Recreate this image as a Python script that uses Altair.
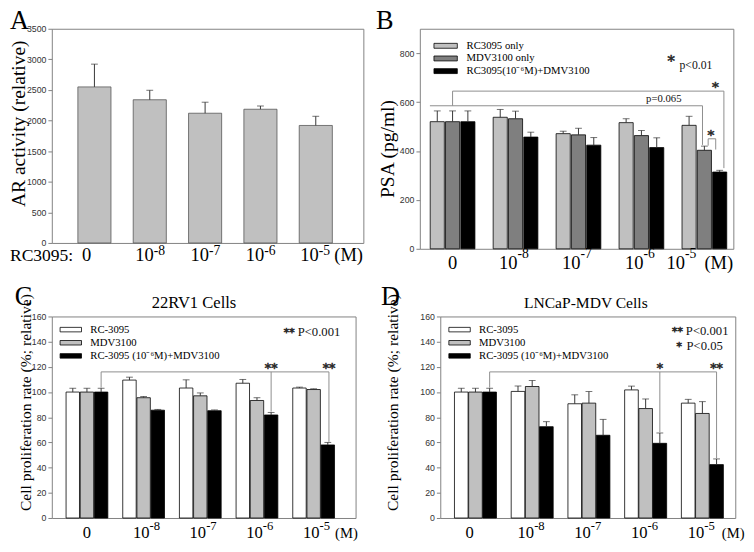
import altair as alt
import pandas as pd

SERIF = "Liberation Serif"
SANS = "Liberation Sans"
STAR = "DejaVu Serif"

# ---------------- data ----------------
x_bases = ["0", "10", "10", "10", "10"]
x_exps = ["", "-8", "-7", "-6", "-5"]

# Panel A: AR activity
a_values = [2550, 2340, 2120, 2185, 1920]
a_errors = [372, 155, 180, 53, 150]

# Panel B: PSA
b_series = ["RC3095 only", "MDV3100 only", "RC3095(10⁻⁶M)+DMV3100"]
b_colors = ["#c0c0c0", "#7f7f7f", "#000000"]
b_rc = [520, 538, 471, 516, 505]
b_rc_err = [44, 32, 10, 16, 37]
b_mdv = [520, 532, 466, 463, 403]
b_mdv_err = [44, 31, 27, 21, 17]
b_combo = [520, 457, 424, 414, 314]
b_combo_err = [44, 20, 31, 40, 7]

# Panel C: 22RV1
c_series = ["RC-3095", "MDV3100", "RC-3095 (10⁻⁶M)+MDV3100"]
cd_colors = ["#ffffff", "#c0c0c0", "#000000"]
c_rc = [100, 109.5, 103.2, 107, 103.2]
c_rc_err = [3, 2.3, 6.5, 3, 0.7]
c_mdv = [100, 95.5, 97, 93.3, 102]
c_mdv_err = [3, 1, 2.3, 2.2, 0.6]
c_combo = [100, 85.6, 85.2, 81.8, 58]
c_combo_err = [3, 0.6, 0.6, 2, 2]

# Panel D: LNCaP-MDV
d_series = ["RC-3095", "MDV3100", "RC-3095 (10⁻⁶M)+MDV3100"]
d_rc = [100, 100.5, 90.7, 101.7, 91.2]
d_rc_err = [3, 4.3, 7.1, 3, 3]
d_mdv = [100, 104.4, 91.2, 86.9, 83]
d_mdv_err = [3, 4.8, 9.2, 7.6, 9.4]
d_combo = [100, 72.5, 65.7, 59.3, 42.4]
d_combo_err = [3, 4, 12.6, 8.2, 4.5]

# significance brackets (x in group units, y in data units)
b_seg_x1 = [-0.36, 0.0, 0.0, 4.31, 3.97, 4.06, 4.06, 4.18]
b_seg_y1 = [585, 585, 645, 645, 585, 422, 450, 450]
b_seg_x2 = [3.97, 0.0, 4.31, 4.31, 3.97, 4.06, 4.18, 4.18]
b_seg_y2 = [585, 645, 645, 330, 425, 450, 450, 406]

c_seg_x1 = [0.25, 0.25, 3.25, 4.27]
c_seg_y1 = [103.5, 116, 116, 116]
c_seg_x2 = [0.25, 4.27, 3.25, 4.27]
c_seg_y2 = [116, 116, 84.5, 60.5]

d_seg_x1 = [0.25, 0.25, 3.25, 4.25]
d_seg_y1 = [103.5, 116, 116, 116]
d_seg_x2 = [0.25, 4.25, 3.25, 4.25]
d_seg_y2 = [116, 116, 68, 47.5]


def series_frame(names, values, errors):
    rows = []
    for si, name in enumerate(names):
        for g in range(len(values[si])):
            rows.append(dict(group=g, sidx=si, series=name,
                             value=values[si][g], err=errors[si][g]))
    return pd.DataFrame(rows)


def xscale(lo, hi):
    return alt.Scale(domain=[lo, hi], nice=False, zero=False, padding=0)


def bar_layers(df, xs, ys, yaxis, offset, bar_w, center_idx, color_enc=None,
               fill=None, stroke="black"):
    base = alt.Chart(df).transform_calculate(
        pos=f"datum.group + (datum.sidx - {center_idx}) * {offset}",
        upper="datum.value + datum.err",
    )
    X = alt.X("pos:Q", scale=xs, axis=None)
    enc = dict(x=X, y=alt.Y("value:Q", scale=ys, axis=yaxis))
    if color_enc is not None:
        enc["color"] = color_enc
    mk = dict(width=bar_w, stroke=stroke, strokeWidth=0.8)
    if fill:
        mk["fill"] = fill
    bars = base.mark_bar(**mk).encode(**enc)
    err = base.mark_rule(color="#333333", strokeWidth=1).encode(
        x=X, y=alt.Y("value:Q", scale=ys, axis=yaxis), y2="upper:Q")
    cap = base.mark_tick(orient="horizontal", size=7, thickness=1,
                         color="#333333").encode(
        x=X, y=alt.Y("upper:Q", scale=ys, axis=yaxis))
    return [bars, err, cap]


def seg_layer(x1, y1, x2, y2, xs, ys, yaxis):
    df = pd.DataFrame(dict(x1=x1, y1=y1, x2=x2, y2=y2))
    return alt.Chart(df).mark_rule(color="#8c8c8c", strokeWidth=1).encode(
        x=alt.X("x1:Q", scale=xs, axis=None), x2="x2:Q",
        y=alt.Y("y1:Q", scale=ys, axis=yaxis), y2="y2:Q")


def note(x, y, text, xs, ys, yaxis, size, align="center", font=SERIF, dx=0,
         stroke=None, fill="#111111"):
    df = pd.DataFrame(dict(x=[x], y=[y], t=[text]))
    mk = dict(font=font, fontSize=size, align=align, baseline="alphabetic",
              fill=fill, dx=dx)
    if stroke:
        mk.update(stroke=fill, strokeWidth=stroke)
    return alt.Chart(df).mark_text(**mk).encode(
        x=alt.X("x:Q", scale=xs, axis=None),
        y=alt.Y("y:Q", scale=ys, axis=yaxis), text="t:N")


def star(x, y, text, xs, ys, yaxis, size, align="center", dx=0):
    return note(x, y, text, xs, ys, yaxis, size, align=align, font=STAR,
                dx=dx, stroke=0.55, fill="#2a2a2a")


def x_labels(xs, H, zero_dx, ten_dx, last_dx, m_dx, base_off, exp_off,
             base_size=19, exp_size=14, m_size=19):
    df = pd.DataFrame(dict(group=list(range(5)), base=x_bases, exp=x_exps))
    X = alt.X("group:Q", scale=xs, axis=None)
    b = alt.Chart(df)
    common = dict(font=SERIF, baseline="alphabetic", color="black")
    yb = alt.value(H + base_off)
    ye = alt.value(H + exp_off)
    layers = [
        b.transform_filter("datum.group == 0").mark_text(
            fontSize=base_size, align="center", dx=zero_dx, **common).encode(
            x=X, y=yb, text="base:N"),
        b.transform_filter("datum.group > 0 && datum.group < 4").mark_text(
            fontSize=base_size, align="right", dx=ten_dx, **common).encode(
            x=X, y=yb, text="base:N"),
        b.transform_filter("datum.group > 0 && datum.group < 4").mark_text(
            fontSize=exp_size, align="left", dx=ten_dx, **common).encode(
            x=X, y=ye, text="exp:N"),
        b.transform_filter("datum.group == 4").mark_text(
            fontSize=base_size, align="right", dx=last_dx, **common).encode(
            x=X, y=yb, text="base:N"),
        b.transform_filter("datum.group == 4").mark_text(
            fontSize=exp_size, align="left", dx=last_dx, **common).encode(
            x=X, y=ye, text="exp:N"),
        b.transform_filter("datum.group == 4").mark_text(
            fontSize=m_size, align="left", dx=m_dx, text="(M)", **common).encode(
            x=X, y=yb),
    ]
    return layers


def free_text(t, x, y, size, align="left", baseline="top"):
    return alt.Chart(pd.DataFrame(dict(t=[t]))).mark_text(
        font=SERIF, fontSize=size, align=align, baseline=baseline,
        color="black").encode(text="t:N", x=alt.value(x), y=alt.value(y))


def legend(x, y, r, rowpad, size=11):
    return alt.Legend(
        orient="none", legendX=x, legendY=y, title=None, padding=0,
        symbolType="M-2,-0.42H2V0.42H-2Z", symbolSize=(2 * r) ** 2,
        symbolStrokeColor="black", symbolStrokeWidth=0.8,
        labelFont=SERIF, labelFontSize=size, labelColor="black",
        labelOffset=2 * r + 3, rowPadding=rowpad, symbolOpacity=1)


def y_axis(values, title, size, tx, ty):
    return alt.Axis(values=values, format="d", title=title,
                    titleFontSize=size, titleX=tx, titleY=ty,
                    titleAngle=270, titleAlign="center",
                    titleBaseline="bottom", labelPadding=2)


# ---------------- panel A ----------------
AW, AH = 320, 220
a_xs = xscale(-0.77, 4.86)
a_ys = alt.Scale(domain=[0, 3500], nice=False)
a_axis = y_axis(list(range(0, 3501, 500)), "AR activity (relative)", 20,
                -24, 97)
a_df = series_frame(["AR"], [a_values], [a_errors])
panel_a = alt.layer(
    *bar_layers(a_df, a_xs, a_ys, a_axis, 0, 34, 0, fill="#c0c0c0",
                stroke="#555555"),
    *x_labels(a_xs, AH, -8, 4, 3, 19, 19, 12),
    free_text("RC3095:", -43, AH + 19, 18, baseline="alphabetic"),
    free_text("A", -43, -21, 27),
).properties(width=AW, height=AH)

# ---------------- panel B ----------------
BW, BH = 322, 226
b_xs = xscale(-0.52, 4.46)
b_ys = alt.Scale(domain=[0, 900], nice=False)
b_axis = y_axis([0, 200, 400, 600, 800], "PSA (pg/ml)", 20, -23, 123)
b_df = series_frame(b_series, [b_rc, b_mdv, b_combo],
                    [b_rc_err, b_mdv_err, b_combo_err])
b_color = alt.Color("series:N",
                    scale=alt.Scale(domain=b_series, range=b_colors),
                    legend=legend(20, 11, 6, 1, 11))
panel_b = alt.layer(
    *bar_layers(b_df, b_xs, b_ys, b_axis, 0.243, 14.5, 1, color_enc=b_color),
    seg_layer(b_seg_x1, b_seg_y1, b_seg_x2, b_seg_y2, b_xs, b_ys, b_axis),
    star(3.47, 748, "*", b_xs, b_ys, b_axis, 15),
    note(3.605, 737, "p<0.01", b_xs, b_ys, b_axis, 12, "left"),
    note(3.355, 601, "p=0.065", b_xs, b_ys, b_axis, 11),
    star(4.177, 642, "*", b_xs, b_ys, b_axis, 14),
    star(4.105, 445, "*", b_xs, b_ys, b_axis, 14),
    *x_labels(b_xs, BH, 0, 2, -20, 0, 21, 9),
    free_text("B", -45, -21, 27),
).properties(width=BW, height=BH)

# ---------------- panel C ----------------
CW, CH = 312, 207
c_xs = xscale(-0.62, 4.74)
cd_ys = alt.Scale(domain=[0, 160], nice=False)
c_axis = y_axis(list(range(0, 161, 20)),
                "Cell proliferation rate (%; relative)", 16, -19, 88)
d_axis = y_axis(list(range(0, 161, 20)),
                "Cell proliferation rate (%; relative)", 16, -41, 88)
c_df = series_frame(c_series, [c_rc, c_mdv, c_combo],
                    [c_rc_err, c_mdv_err, c_combo_err])
c_color = alt.Color("series:N",
                    scale=alt.Scale(domain=c_series, range=cd_colors),
                    legend=legend(13.5, 7.5, 5.5, 2.5, 11))
panel_c = alt.layer(
    *bar_layers(c_df, c_xs, cd_ys, c_axis, 0.25, 13.8, 1, color_enc=c_color),
    seg_layer(c_seg_x1, c_seg_y1, c_seg_x2, c_seg_y2, c_xs, cd_ys, c_axis),
    note(4.47, 144.5, "P<0.001", c_xs, cd_ys, c_axis, 13, "right"),
    star(4.47, 144.5, "**", c_xs, cd_ys, c_axis, 11, "right", dx=-47),
    star(3.25, 115, "**", c_xs, cd_ys, c_axis, 13),
    star(4.27, 115, "**", c_xs, cd_ys, c_axis, 13),
    *x_labels(c_xs, CH, 0, 6, 6, 22, 21, 12.7, base_size=17, exp_size=13,
              m_size=15),
    free_text("22RV1 Cells", CW / 2 - 10, -9, 17, align="center",
              baseline="alphabetic"),
    free_text("C", -38, -32.5, 27),
).properties(width=CW, height=CH)

# ---------------- panel D ----------------
DW, DH = 303, 207
d_xs = xscale(-0.62, 4.58)
d_df = series_frame(d_series, [d_rc, d_mdv, d_combo],
                    [d_rc_err, d_mdv_err, d_combo_err])
d_color = alt.Color("series:N",
                    scale=alt.Scale(domain=d_series, range=cd_colors),
                    legend=legend(13.8, 7.5, 5.5, 2.5, 11))
panel_d = alt.layer(
    *bar_layers(d_df, d_xs, cd_ys, d_axis, 0.25, 14, 1, color_enc=d_color),
    seg_layer(d_seg_x1, d_seg_y1, d_seg_x2, d_seg_y2, d_xs, cd_ys, d_axis),
    note(4.46, 145.3, "P<0.001", d_xs, cd_ys, d_axis, 13, "right"),
    star(4.46, 145.3, "**", d_xs, cd_ys, d_axis, 11, "right", dx=-47),
    note(4.36, 133.7, "P<0.05", d_xs, cd_ys, d_axis, 13, "right"),
    star(4.36, 133.7, "*", d_xs, cd_ys, d_axis, 11, "right", dx=-42),
    star(3.25, 115, "*", d_xs, cd_ys, d_axis, 13),
    star(4.25, 115, "**", d_xs, cd_ys, d_axis, 13),
    *x_labels(d_xs, DH, -6, 2, 2, 20, 21, 12.7, base_size=17, exp_size=13,
              m_size=15),
    free_text("LNCaP-MDV Cells", DW / 2 - 2, -9, 16, align="center",
              baseline="alphabetic"),
    free_text("D", -61, -32.5, 27),
).properties(width=DW, height=DH)

row1 = alt.hconcat(panel_a, panel_b, spacing=11).resolve_scale(
    color="independent").resolve_legend(color="independent")
row2 = alt.hconcat(panel_c, panel_d, spacing=22).resolve_scale(
    color="independent").resolve_legend(color="independent")

chart = alt.vconcat(row1, row2, spacing=9.5).resolve_scale(
    color="independent").resolve_legend(color="independent").properties(
    padding={"left": 0, "top": -9, "right": 0, "bottom": 0}
).configure_view(
    stroke="#808080", strokeWidth=1
).configure_axis(
    labelFont=SANS, labelFontSize=9, labelColor="#333333",
    tickColor="#808080", tickSize=4, domain=False, grid=False,
    titleFont=SERIF, titleFontWeight="normal", titleColor="black"
)

chart.save("out.html", embed_options={"renderer": "svg", "actions": False})
